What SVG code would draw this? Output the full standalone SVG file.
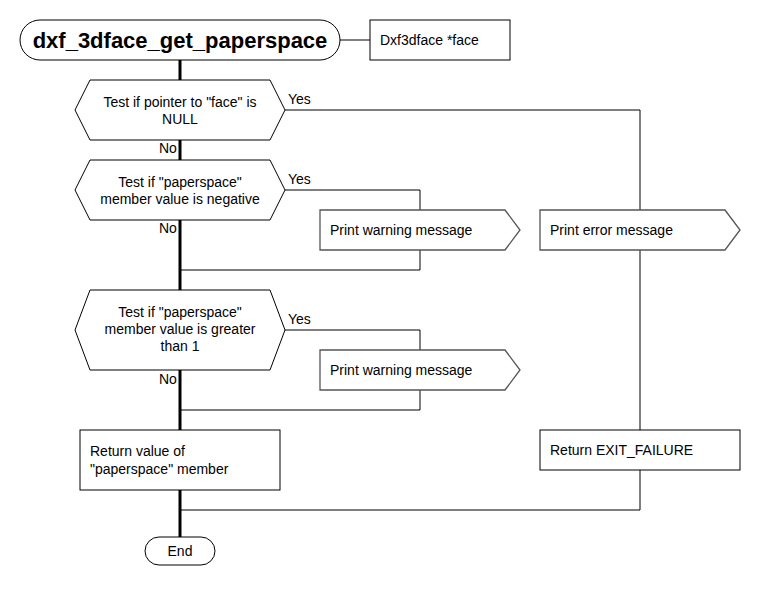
<svg xmlns="http://www.w3.org/2000/svg" width="760" height="590" viewBox="0 0 760 590">
<style>
.s{fill:#fff;stroke:#000;stroke-width:1}
.g{fill:#fff;stroke:#555;stroke-width:1.3}
.t{font-family:"Liberation Sans",Arial,sans-serif;font-size:14px;fill:#000}
.c{text-anchor:middle}
.thin{fill:none;stroke:#000;stroke-width:1}
.thick{fill:none;stroke:#000;stroke-width:3}
</style>
<rect width="760" height="590" fill="#fff"/>
<g id="connectors">
<path class="thick" d="M180 60V537"/>
<path class="thin" d="M340 40H370"/>
<path class="thin" d="M285 110H640V430"/>
<path class="thin" d="M640 470V510H180"/>
<path class="thin" d="M285 190H420V210"/>
<path class="thin" d="M420 250V270H180"/>
<path class="thin" d="M285 330H420V350"/>
<path class="thin" d="M420 390V410H180"/>
<text class="t" x="288" y="104">Yes</text>
<text class="t" x="159" y="153">No</text>
<text class="t" x="288" y="184">Yes</text>
<text class="t" x="159" y="233">No</text>
<text class="t" x="288" y="324">Yes</text>
<text class="t" x="159" y="384">No</text>
</g>
<g id="start">
<rect class="s" x="20" y="20" width="320" height="40" rx="20"/>
<text class="t c" x="180" y="48" style="font-size:22px;font-weight:bold">dxf_3dface_get_paperspace</text>
</g>
<g id="param">
<rect class="s" x="370" y="20" width="140" height="40"/>
<text class="t" x="380" y="45">Dxf3dface *face</text>
</g>
<g id="dec1">
<polygon class="s" points="75,110 90,80 270,80 285,110 270,140 90,140"/>
<text class="t c" x="180" y="107">Test if pointer to "face" is</text>
<text class="t c" x="180" y="124">NULL</text>
</g>
<g id="dec2">
<polygon class="s" points="75,190 90,160 270,160 285,190 270,220 90,220"/>
<text class="t c" x="180" y="187">Test if "paperspace"</text>
<text class="t c" x="180" y="204">member value is negative</text>
</g>
<g id="warn1">
<polygon class="g" points="320,210 505,210 520,230 505,250 320,250"/>
<text class="t" x="330" y="235">Print warning message</text>
</g>
<g id="err">
<polygon class="g" points="540,210 725,210 740,230 725,250 540,250"/>
<text class="t" x="550" y="235">Print error message</text>
</g>
<g id="dec3">
<polygon class="s" points="75,330 90,290 270,290 285,330 270,370 90,370"/>
<text class="t c" x="180" y="317">Test if "paperspace"</text>
<text class="t c" x="180" y="334">member value is greater</text>
<text class="t c" x="180" y="351">than 1</text>
</g>
<g id="warn2">
<polygon class="g" points="320,350 505,350 520,370 505,390 320,390"/>
<text class="t" x="330" y="375">Print warning message</text>
</g>
<g id="ret">
<rect class="s" x="80" y="430" width="200" height="60"/>
<text class="t" x="90" y="456">Return value of</text>
<text class="t" x="90" y="474">"paperspace" member</text>
</g>
<g id="fail">
<rect class="s" x="540" y="430" width="200" height="40"/>
<text class="t" x="550" y="455">Return EXIT_FAILURE</text>
</g>
<g id="end">
<rect class="s" x="145" y="537" width="70" height="28" rx="14"/>
<text class="t c" x="180" y="556">End</text>
</g>
</svg>
